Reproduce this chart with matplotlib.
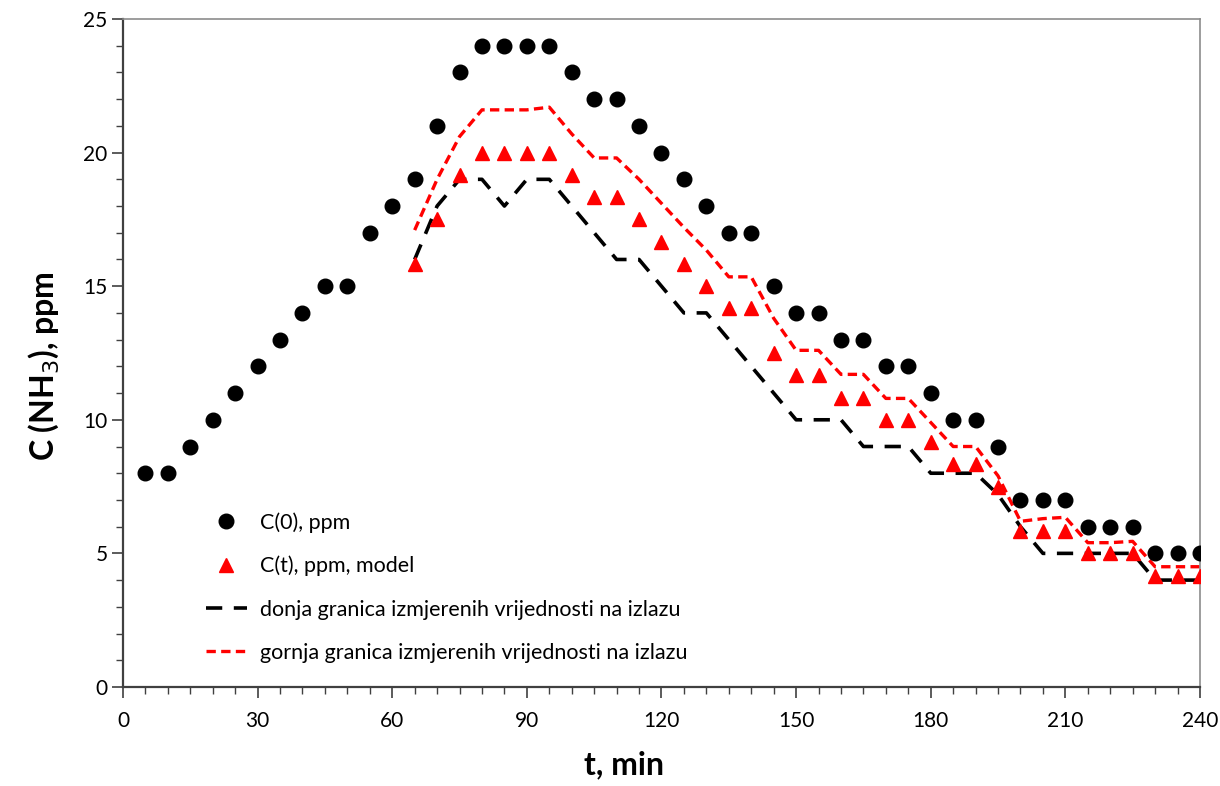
import matplotlib.pyplot as plt
from matplotlib.ticker import MultipleLocator

plt.rcParams['font.family'] = ['Lato', 'DejaVu Sans']

t_c0 = list(range(5, 245, 5))
c0 = [8, 8, 9, 10, 11, 12, 13, 14, 15, 15, 17, 18, 19, 21, 23, 24, 24, 24, 24, 23,
      22, 22, 21, 20, 19, 18, 17, 17, 15, 14, 14, 13, 13, 12, 12, 11, 10, 10, 9, 7,
      7, 7, 6, 6, 6, 5, 5, 5]

t_model = list(range(65, 245, 5))
ct = [15.83, 17.5, 19.17, 20, 20, 20, 20, 19.17, 18.33, 18.33, 17.5, 16.67, 15.83,
      15, 14.17, 14.17, 12.5, 11.67, 11.67, 10.83, 10.83, 10, 10, 9.17, 8.33, 8.33,
      7.5, 5.83, 5.83, 5.83, 5, 5, 5, 4.17, 4.17, 4.17]
donja = [16, 18, 19, 19, 18, 19, 19, 18, 17, 16, 16, 15, 14, 14, 13, 12, 11, 10,
         10, 10, 9, 9, 9, 8, 8, 8, 7.2, 6, 5, 5, 5, 5, 5, 4, 4, 4]
gornja = [17.1, 19, 20.6, 21.6, 21.6, 21.6, 21.7, 20.7, 19.8, 19.8, 19, 18.1, 17.2,
          16.35, 15.35, 15.35, 13.8, 12.6, 12.6, 11.7, 11.7, 10.8, 10.8, 9.9, 9,
          9, 7.9, 6.2, 6.3, 6.35, 5.4, 5.4, 5.45, 4.5, 4.5, 4.5]

fig = plt.figure(figsize=(12.2, 7.86), dpi=100)
ax = fig.add_axes([0.1008, 0.126, 0.8828, 0.8498])

ax.plot(t_c0, c0, 'o', color='black', markersize=10.5, label='C(0), ppm', zorder=3)
ax.plot(t_model, ct, '^', color='#ff0000', markersize=10.5, label='C(t), ppm, model', zorder=3)
ax.plot(t_model, donja, color='black', lw=2.6, dashes=(4.5, 3.2),
        label='donja granica izmjerenih vrijednosti na izlazu', zorder=2)
ax.plot(t_model, gornja, color='#ff0000', lw=2.4, dashes=(2.8, 1.6),
        label='gornja granica izmjerenih vrijednosti na izlazu', zorder=2)

ax.set_xlim(0, 240)
ax.set_ylim(0, 25)
ax.xaxis.set_major_locator(MultipleLocator(30))
ax.xaxis.set_minor_locator(MultipleLocator(5))
ax.yaxis.set_major_locator(MultipleLocator(5))
ax.yaxis.set_minor_locator(MultipleLocator(1))
ax.tick_params(which='major', direction='out', length=8, width=1.2, color='#404040',
               labelsize=15)
ax.tick_params(axis='x', which='major', pad=9)
ax.tick_params(axis='y', which='major', pad=3)
ax.tick_params(which='minor', direction='out', length=5, width=1.0, color='#404040')

for s in ['left', 'bottom']:
    ax.spines[s].set_color('#404040')
    ax.spines[s].set_linewidth(1.6)
for s in ['top', 'right']:
    ax.spines[s].set_color('#8c8c8c')
    ax.spines[s].set_linewidth(1.2)

ax.set_xlabel('t, min', fontsize=23, fontweight='bold')
ax.xaxis.set_label_coords(0.465, -0.095)
ax.set_ylabel('C (NH$_3$), ppm', fontsize=23, fontweight='bold')
ax.yaxis.set_label_coords(-0.058, 0.48)

ax.legend(loc='upper left', bbox_to_anchor=(0.077, 0.262), frameon=False,
          fontsize=15.5, handlelength=1.9, handletextpad=0.6, labelspacing=1.08,
          borderaxespad=0, borderpad=0)

fig.savefig('out.png', dpi=100)
